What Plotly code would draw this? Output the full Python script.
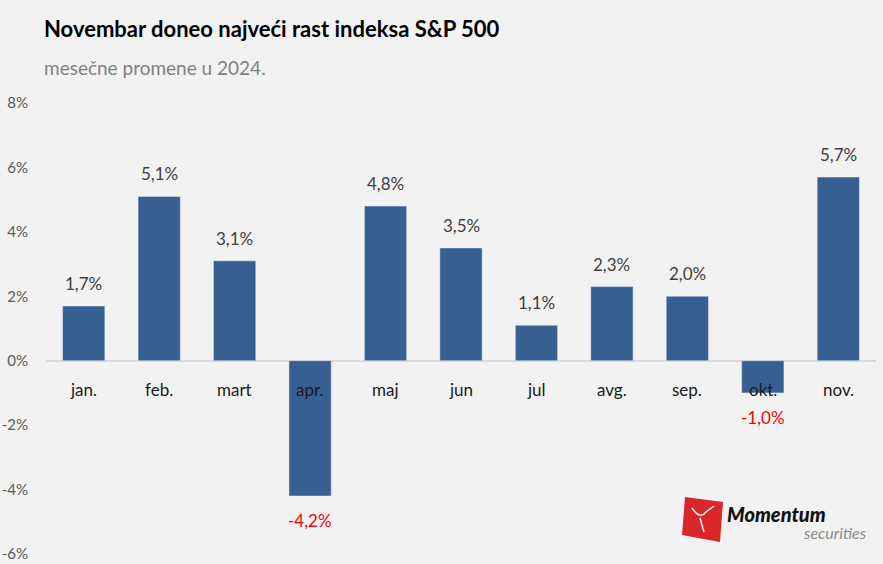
import plotly.graph_objects as go

months = ["jan.", "feb.", "mart", "apr.", "maj", "jun", "jul", "avg.", "sep.", "okt.", "nov."]
changes = [1.7, 5.1, 3.1, -4.2, 4.8, 3.5, 1.1, 2.3, 2.0, -1.0, 5.7]
y_ticks = [-6, -4, -2, 0, 2, 4, 6, 8]

FONT = "Lato"
labels = [f"{v:.1f}".replace(".", ",") + "%" for v in changes]
label_colors = ["#404040" if v >= 0 else "#FF0000" for v in changes]

W, H = 883, 564
ML, MR, MT, MB = 46, 7, 103, 10
ph = H - MT - MB
pw = W - ML - MR
def py(pix):
    return (H - MB - pix) / ph
def px(pix):
    return (pix - ML) / pw

fig = go.Figure()
fig.add_trace(go.Bar(
    x=months, y=changes, marker_color="#375F92", width=0.56,
    hoverinfo="skip",
))

for m, v, lab, col in zip(months, changes, labels, label_colors):
    fig.add_annotation(x=m, y=v, xref="x", yref="y", text=lab, showarrow=False,
                       yanchor="bottom" if v >= 0 else "top",
                       yshift=10 if v >= 0 else -12,
                       font=dict(family=FONT, size=17, color=col))
    fig.add_annotation(x=m, y=0, xref="x", yref="y", text=m, showarrow=False,
                       yanchor="top", yshift=-16,
                       font=dict(family=FONT, size=17, color="#1a1a1a"))

fig.update_layout(
    width=W, height=H,
    paper_bgcolor="#F2F2F2", plot_bgcolor="#F2F2F2",
    margin=dict(l=ML, r=MR, t=MT, b=MB, autoexpand=False),
    showlegend=False,
    xaxis=dict(showticklabels=False, showgrid=False, zeroline=False, showline=False,
               automargin=False),
    yaxis=dict(range=[-6, 8], tickvals=y_ticks,
               ticktext=[f"{t}%" for t in y_ticks],
               showgrid=False, zeroline=True, zerolinecolor="#D9D9D9", zerolinewidth=2,
               tickfont=dict(family=FONT, size=15, color="#595959"),
               ticklabelstandoff=17, automargin=False),
    font=dict(family=FONT),
)

fig.add_annotation(xref="paper", yref="paper", x=px(42), y=py(28), xanchor="left", yanchor="middle",
                   showarrow=False,
                   text="<b>Novembar doneo najveći rast indeksa S&P 500</b>",
                   font=dict(family=FONT, size=22, color="#000000"))
fig.add_annotation(xref="paper", yref="paper", x=px(42), y=py(67), xanchor="left", yanchor="middle",
                   showarrow=False, text="mesečne promene u 2024.",
                   font=dict(family=FONT, size=19, color="#808080"))

# logo
fig.add_shape(type="path", xref="paper", yref="paper",
              path=f"M {px(685)} {py(497)} L {px(723)} {py(502)} L {px(720)} {py(542)} L {px(682)} {py(535)} Z",
              fillcolor="#D9262B", line=dict(width=0))
fig.add_shape(type="path", xref="paper", yref="paper",
              path=f"M {px(692)} {py(508)} Q {px(700)} {py(520)} {px(706)} {py(512)} L {px(714)} {py(506)} M {px(700)} {py(518)} L {px(704)} {py(532)}",
              line=dict(color="#F2F2F2", width=1.5))
fig.add_annotation(xref="paper", yref="paper", x=px(725), y=py(514), xanchor="left", yanchor="middle",
                   showarrow=False, text="<i>Momentum</i>",
                   font=dict(family="Lato", size=20, color="#111111", weight=900))
fig.add_annotation(xref="paper", yref="paper", x=px(869), y=py(532), xanchor="right", yanchor="middle",
                   showarrow=False, text="<i>securities</i>",
                   font=dict(family="Lato", size=16, color="#8C8C8C"))

fig.write_html(
    "out.html",
    config={"displayModeBar": False},
    post_script="document.body.style.margin='0';document.body.style.padding='0';"
                "document.body.style.background='#F2F2F2';",
)
